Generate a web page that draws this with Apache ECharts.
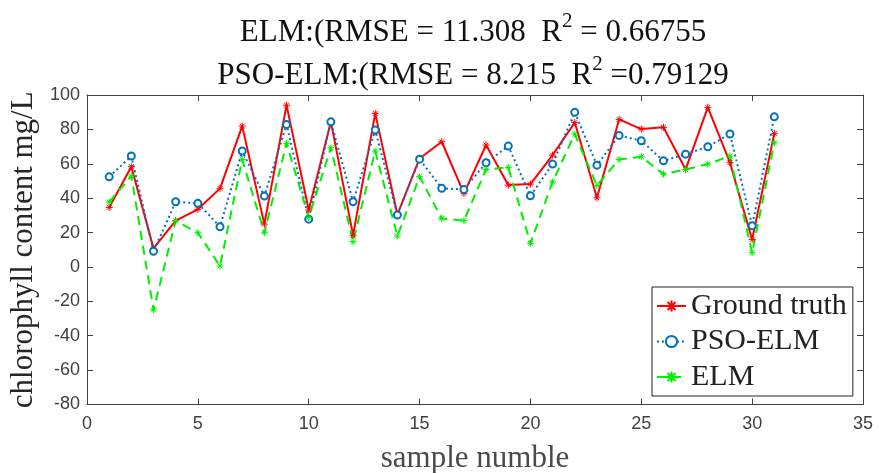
<!DOCTYPE html>
<html>
<head>
<meta charset="utf-8">
<script src="https://cdn.jsdelivr.net/npm/echarts@6/dist/echarts.min.js"></script>
<style>html,body{margin:0;padding:0;background:#fff;}#c{width:879px;height:473px;}</style>
</head>
<body>
<div id="c"></div>
<script>
var samples = [1,2,3,4,5,6,7,8,9,10,11,12,13,14,15,16,17,18,19,20,21,22,23,24,25,26,27,28,29,30,31];
var groundTruth = [34.6,58.3,10.8,26.9,33.5,45.7,81.9,24.9,94.1,33.1,84.4,18.5,89.3,30.5,63.1,72.8,42.8,70.9,47.6,48.2,65.0,84.0,40.2,85.8,80.2,81.2,56.7,92.8,60.6,16.0,77.7];
var psoElm = [52.4,64.5,9.1,37.9,37.0,23.4,67.4,41.2,82.9,27.8,84.4,37.9,79.6,30.2,62.7,45.7,45.1,60.6,70.3,41.4,59.8,89.9,59.2,76.5,73.4,61.7,65.6,69.9,77.3,24.0,87.3];
var elm = [37.7,52.9,-25.0,26.9,19.9,0.5,62.5,19.9,71.9,28.8,69.3,14.7,67.4,18.0,52.5,28.2,26.9,56.7,57.9,13.7,49.5,77.3,47.4,62.5,64.1,54.0,56.7,59.8,64.5,8.3,72.2];
var seriesNames = ['Ground truth','PSO-ELM','ELM'];
var xTicks = {min:0, max:35, interval:5};
var yTicks = {min:-80, max:100, interval:20};

function pairs(ys){ return samples.map(function(x,i){ return [x, ys[i]]; }); }

var star = 'path://M0,-1L0,1M-1,0L1,0M-0.7,-0.7L0.7,0.7M-0.7,0.7L0.7,-0.7';
var serif = 'Liberation Serif';
var sans = 'Liberation Sans';
var axisCol = '#404040';

var chart = echarts.init(document.getElementById('c'));
function axisCommon(extra){
  var o = {
    axisLine:{show:true, onZero:false, lineStyle:{color:axisCol, width:1}},
    axisTick:{show:true, inside:true, length:6, lineStyle:{color:axisCol}},
    splitLine:{show:false}
  };
  for (var k in extra) o[k] = extra[k];
  return o;
}
chart.setOption({
  animation:false,
  backgroundColor:'#fff',
  title:{
    left:468, top:6, textAlign:'center',
    text:'{a|ELM:(RMSE = 11.308  R}{s|2}{a| = 0.66755}\n{a|PSO-ELM:(RMSE = 8.215  R}{s|2}{a| =0.79129}',
    textStyle:{
      fontWeight:'normal',
      rich:{
        a:{fontFamily:serif, fontSize:31, fontWeight:'normal', color:'#111', lineHeight:43},
        s:{fontFamily:serif, fontSize:21, fontWeight:'normal', color:'#111', lineHeight:43, verticalAlign:'top'}
      }
    }
  },
  grid:{left:87, right:16, top:95, bottom:68.5, containLabel:false, outerBoundsMode:'none'},
  legend:{
    left:652, top:287, orient:'vertical',
    data:seriesNames,
    backgroundColor:'#fff', borderColor:'#222', borderWidth:1,
    padding:[4,6,4,4], itemGap:5.5, itemWidth:29, itemHeight:14,
    textStyle:{fontFamily:serif, fontSize:30, color:'#222', lineHeight:30},
    selectedMode:false
  },
  xAxis:[
    axisCommon({type:'value', min:xTicks.min, max:xTicks.max, interval:xTicks.interval, position:'bottom',
      axisLabel:{fontFamily:sans, fontSize:18, color:axisCol, margin:11},
      name:'sample numble', nameLocation:'middle', nameGap:39,
      nameTextStyle:{fontFamily:serif, fontSize:31, color:'#4a4a4a'}}),
    axisCommon({type:'value', min:xTicks.min, max:xTicks.max, interval:xTicks.interval, position:'top', axisLabel:{show:false}})
  ],
  yAxis:[
    axisCommon({type:'value', min:yTicks.min, max:yTicks.max, interval:yTicks.interval, position:'left',
      axisLabel:{fontFamily:sans, fontSize:18, color:axisCol, margin:7},
      name:'chlorophyll content mg/L', nameLocation:'middle', nameGap:40,
      nameTextStyle:{fontFamily:serif, fontSize:31, color:'#262626'}}),
    axisCommon({type:'value', min:yTicks.min, max:yTicks.max, interval:yTicks.interval, position:'right', axisLabel:{show:false}})
  ],
  series:[
    {name:seriesNames[0], type:'line', data:pairs(groundTruth), symbol:star, symbolSize:7,
      lineStyle:{color:'#ff0000', width:2}, itemStyle:{color:'#ff0000', borderColor:'#ff0000', borderWidth:1}},
    {name:seriesNames[1], type:'line', data:pairs(psoElm), symbol:'emptyCircle', symbolSize:7,
      lineStyle:{color:'#0072BD', width:2, type:[2,3]}, itemStyle:{color:'#0072BD', borderColor:'#0072BD', borderWidth:2}},
    {name:seriesNames[2], type:'line', data:pairs(elm), symbol:star, symbolSize:7,
      lineStyle:{color:'#00ee00', width:2, type:[9,6]}, itemStyle:{color:'#00ee00', borderColor:'#00ee00', borderWidth:1}}
  ]
});
</script>
</body>
</html>
